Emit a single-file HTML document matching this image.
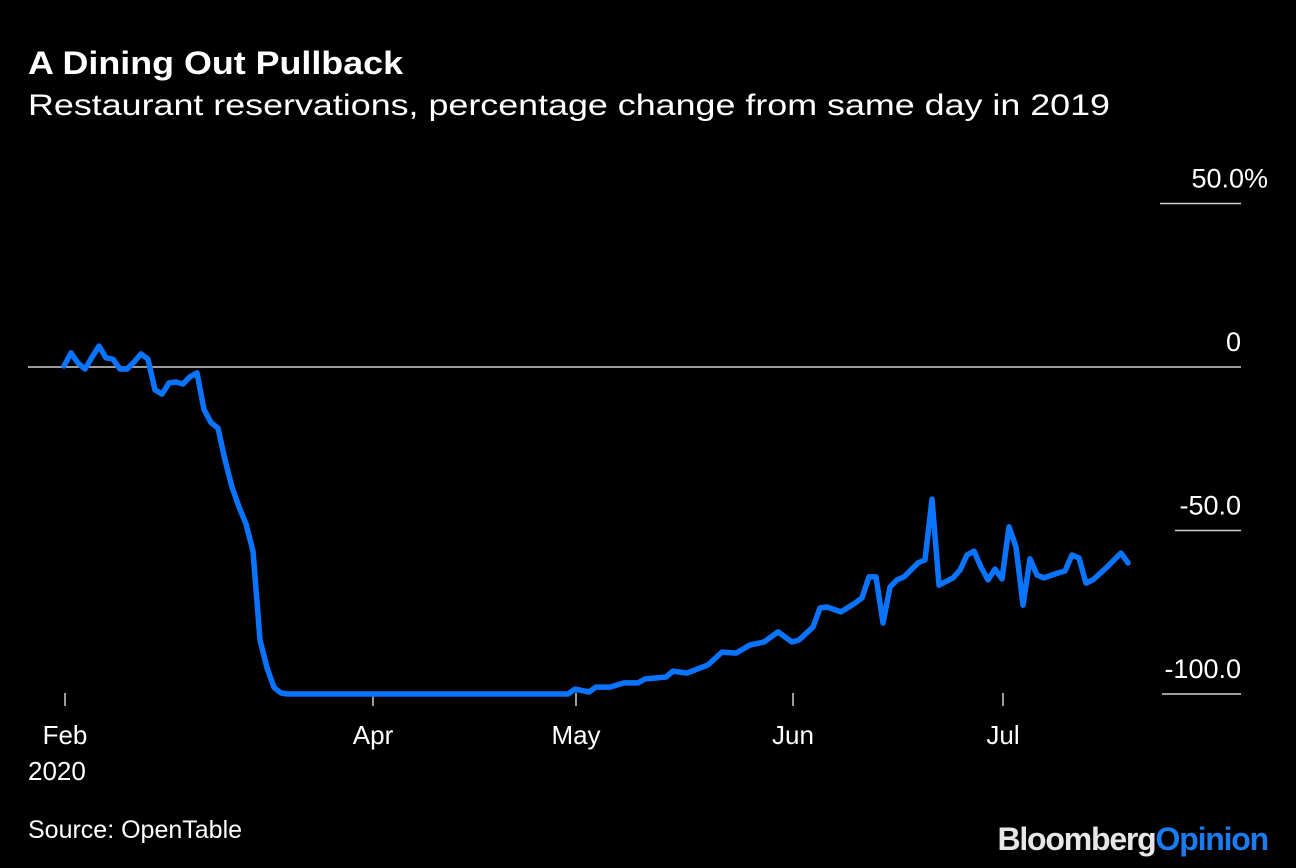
<!DOCTYPE html>
<html><head><meta charset="utf-8"><style>
html,body{margin:0;padding:0;background:#000;}
svg{display:block;font-family:"Liberation Sans",sans-serif;}
</style></head><body>
<svg id="chart" width="1296" height="868" viewBox="0 0 1296 868" xmlns="http://www.w3.org/2000/svg">
<rect width="1296" height="868" fill="#000"/>
<text x="28" y="74" fill="#fff" font-size="32" font-weight="bold" textLength="375" lengthAdjust="spacingAndGlyphs">A Dining Out Pullback</text>
<text x="28" y="115" fill="#fff" font-size="30" textLength="1082" lengthAdjust="spacingAndGlyphs">Restaurant reservations, percentage change from same day in 2019</text>
<g id="yaxis"></g>
<g id="xaxis"></g>
<path id="line" fill="none" stroke="#0a74ff" stroke-width="5.5" stroke-linejoin="round" stroke-linecap="round"/>
<text x="28" y="838" fill="#fff" font-size="25">Source: OpenTable</text>
<text x="1268" y="850" text-anchor="end" font-size="32" font-weight="bold" letter-spacing="-1.2"><tspan fill="#e6e6e6">Bloomberg</tspan><tspan fill="#1a7cf0">Opinion</tspan></text>
</svg>
<script>
const days = [0,1,2,3,4,5,6,7,8,9,10,11,12,13,14,15,16,17,18,19,20,21,22,23,24,25,26,27,28,29,30,31,32,72,73,75,76,78,80,82,83,86,87,89,92,94,96,98,100,102,104,105,107,108,109,111,113,114,115,116,117,118,119,120,122,123,124,125,127,128,129,130,131,132,133,134,135,136,137,138,139,140,142,143,144,145,146,147,149,151,152];
const values = [0.3,4.3,1.2,-0.6,3,6.4,2.8,2.4,-0.6,-0.6,1.5,4,2.4,-7,-8.3,-4.9,-4.6,-5.2,-3,-1.8,-13,-17,-18.7,-28.4,-36.7,-42.8,-48,-56.3,-83.5,-92,-98,-99.7,-100,-100,-98.5,-99.4,-97.9,-97.9,-96.6,-96.6,-95.4,-94.8,-93,-93.6,-91.1,-87.2,-87.5,-85,-84.1,-81,-84.1,-83.5,-79.5,-73.7,-73.4,-74.9,-72.2,-70.6,-64.2,-64.2,-78.3,-67.3,-65.1,-64.2,-59.9,-59,-40.4,-66.7,-64.5,-62.1,-57.5,-56.3,-61.2,-65.1,-61.8,-64.8,-48.9,-55,-72.8,-58.7,-63.6,-64.5,-63,-62.4,-57.5,-58.4,-66.1,-65.1,-61.2,-56.9,-59.9];
const yTicks = [50,0,-50,-100];
const yTickLabels = ["50.0%","0","-50.0","-100.0"];
const xTickDays = [0,44,73,104,134];
const xTickLabels = ["Feb","Apr","May","Jun","Jul"];

const NS="http://www.w3.org/2000/svg";
function xs(d){return 64+7*d;}
function ys(v){return 367-3.27*v;}
const yax=document.getElementById('yaxis');
const xax=document.getElementById('xaxis');
const lineStarts=[1160,28,1175,1162];
yTicks.forEach((t,i)=>{
  const l=document.createElementNS(NS,'line');
  
  
  l.setAttribute('x1',lineStarts[i]);l.setAttribute('x2',1241);
  l.setAttribute('y1',ys(t));l.setAttribute('y2',ys(t));
  l.setAttribute('stroke','#d0d0d0');l.setAttribute('stroke-width','1.5');
  yax.appendChild(l);
  const tx=document.createElementNS(NS,'text');
  
  
  tx.setAttribute('x',i===0?1268:1241);tx.setAttribute('y',ys(t)-16);
  tx.setAttribute('text-anchor','end');tx.setAttribute('fill','#fff');tx.setAttribute('font-size','27');
  tx.textContent=yTickLabels[i];
  yax.appendChild(tx);
});
xTickDays.forEach((d,i)=>{
  const x=xs(d)+1;
  const l=document.createElementNS(NS,'line');
  
  
  l.setAttribute('x1',x);l.setAttribute('x2',x);l.setAttribute('y1',693);l.setAttribute('y2',706);
  l.setAttribute('stroke','#d0d0d0');l.setAttribute('stroke-width','1.5');
  xax.appendChild(l);
  const tx=document.createElementNS(NS,'text');
  
  
  tx.setAttribute('x',x);tx.setAttribute('y',744);tx.setAttribute('text-anchor','middle');
  tx.setAttribute('fill','#fff');tx.setAttribute('font-size','26');
  tx.textContent=xTickLabels[i];
  xax.appendChild(tx);
});
const yr=document.createElementNS(NS,'text');


yr.setAttribute('x',28);yr.setAttribute('y',780);yr.setAttribute('fill','#fff');yr.setAttribute('font-size','26');
yr.textContent='2020';
xax.appendChild(yr);
let d='';
for(let i=0;i<days.length;i++){d+=(i?'L':'M')+xs(days[i]).toFixed(1)+','+ys(values[i]).toFixed(1);}
document.getElementById('line').setAttribute('d',d);
</script>
</body></html>
